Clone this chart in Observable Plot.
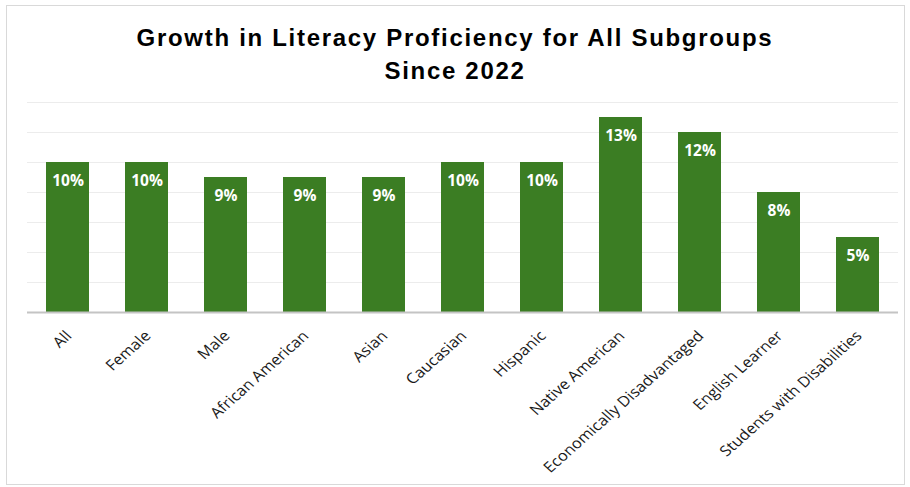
<!DOCTYPE html>
<html>
<head>
<meta charset="utf-8">
<script src="https://cdn.jsdelivr.net/npm/d3@7"></script>
<script src="https://cdn.jsdelivr.net/npm/@observablehq/plot@0.6"></script>
<style>
  html, body { margin: 0; padding: 0; background: #fff; }
  #wrap { position: relative; width: 910px; height: 487px; overflow: hidden; }
  #frame { position: absolute; left: 6px; top: 5px; width: 899px; height: 480px; border: 1.5px solid #d9d9d9; box-sizing: border-box; }
  #title { position: absolute; left: 0; top: 21px; width: 910px; text-align: center; font-family: "Liberation Sans", Arial, sans-serif; font-weight: 700; font-size: 24px; line-height: 33px; letter-spacing: 1.7px; color: #000; }
  #chart { position: absolute; left: 0; top: 92px; }
</style>
</head>
<body>
<div id="wrap">
  <div id="frame"></div>
  <div id="title">Growth in Literacy Proficiency for All Subgroups<br>Since 2022</div>
  <div id="chart"></div>
</div>
<script>
const categories = ["All", "Female", "Male", "African American", "Asian", "Caucasian", "Hispanic", "Native American", "Economically Disadvantaged", "English Learner", "Students with Disabilities"];
const values = [10, 10, 9, 9, 9, 10, 10, 13, 12, 8, 5];
const gridTicks = [2, 4, 6, 8, 10, 12, 14];

const data = categories.map((c, i) => ({category: c, value: values[i]}));

const chart = Plot.plot({
  width: 910,
  height: 395,
  marginTop: 10,
  marginBottom: 175,
  marginLeft: 27,
  marginRight: 12,
  style: {fontFamily: "'Open Sans', sans-serif", background: "transparent"},
  x: {domain: categories, paddingInner: 0.46, paddingOuter: 0.23, label: null},
  y: {domain: [0, 14], axis: null},
  marks: [
    Plot.ruleY(gridTicks, {stroke: "#ececec", strokeWidth: 1.2}),
    Plot.barY(data, {x: "category", y: "value", fill: "#3b7d23"}),
    Plot.ruleY([0], {stroke: "#c4c4c4", strokeWidth: 1.8}),
    Plot.text(data, {x: "category", y: "value", text: d => d.value + "%", dy: 19, fill: "#fff", fontWeight: 700, fontSize: 15.5}),
    Plot.axisX({tickSize: 0, tickPadding: 21, dx: 1, tickRotate: -45, fontSize: 14.6, color: "#1a1a1a", label: null})
  ]
});
// the reference picture is stretched horizontally: mimic it on the rotated tick labels
chart.querySelectorAll("text, g").forEach(el => {
  const tr = el.getAttribute("transform");
  if (tr && tr.includes("rotate(-45)")) el.setAttribute("transform", tr.replace("rotate(-45)", "scale(1.13,1) rotate(-45)"));
});
document.getElementById("chart").appendChild(chart);
</script>
</body>
</html>
